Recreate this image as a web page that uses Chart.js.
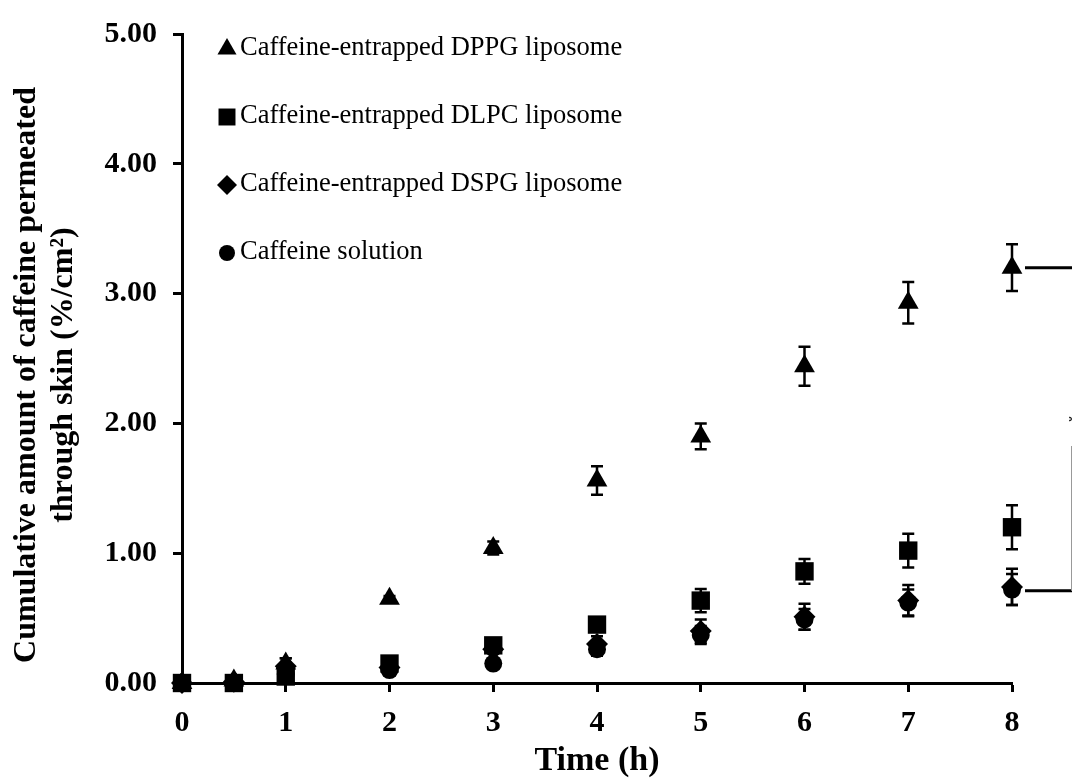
<!DOCTYPE html>
<html>
<head>
<meta charset="utf-8">
<title>Caffeine permeation through skin</title>
<script src="https://cdn.jsdelivr.net/npm/chart.js@4.4.1/dist/chart.umd.min.js"></script>
<style>
  html, body { margin: 0; padding: 0; background: #fff; }
</style>
</head>
<body>
<canvas id="chart" width="1072" height="778"></canvas>
<script>
// sampling times (h)
let times = [0, 0.5, 1, 2, 3, 4, 5, 6, 7, 8];

// cumulative amount permeated (%/cm2) and SD per formulation
let dppg = [0, 0.02, 0.15, 0.65, 1.04, 1.56, 1.9, 2.44, 2.93, 3.2];
let dppgSd = [0, 0.01, 0.04, 0.02, 0.05, 0.11, 0.1, 0.15, 0.16, 0.18];

let dlpc = [0, 0, 0.05, 0.15, 0.29, 0.45, 0.635, 0.86, 1.02, 1.2];
let dlpcSd = [0, 0, 0.03, 0.02, 0.03, 0.03, 0.09, 0.095, 0.13, 0.17];

let dspg = [0, 0.01, 0.13, 0.12, 0.26, 0.3, 0.4, 0.51, 0.635, 0.74];
let dspgSd = [0, 0.01, 0.06, 0.02, 0.03, 0.06, 0.09, 0.1, 0.12, 0.14];

let solution = [0, 0, 0.07, 0.1, 0.15, 0.26, 0.37, 0.49, 0.62, 0.72];
let solutionSd = [0, 0, 0.03, 0.02, 0.02, 0.05, 0.07, 0.08, 0.1, 0.12];

let labels = [
  "Caffeine-entrapped DPPG liposome",
  "Caffeine-entrapped DLPC liposome",
  "Caffeine-entrapped DSPG liposome",
  "Caffeine solution",
];
let yTicks = [0, 1, 2, 3, 4, 5];
let yTitle = ["Cumulative amount of caffeine permeated", "through skin (%/cm\u00B2)"];
let xTitle = "Time (h)";

let serif = "'Liberation Serif', 'Times New Roman', serif";

function points(ys) {
  return times.map((t, i) => ({ x: t, y: ys[i] }));
}

function series(label, ys, sd, style, radius) {
  return {
    label: label,
    data: points(ys),
    sd: sd,
    pointStyle: style,
    pointRadius: radius,
    pointHoverRadius: radius,
    pointBackgroundColor: "#000",
    pointBorderColor: "#000",
    pointBorderWidth: 0,
    showLine: false,
    clip: false,
  };
}

// vertical SD bars with caps
let errorBars = {
  id: "errorBars",
  afterDatasetsDraw(chart) {
    let ctx = chart.ctx;
    let xs = chart.scales.x;
    let ys = chart.scales.y;
    ctx.save();
    ctx.strokeStyle = "#000";
    ctx.lineWidth = 2.5;
    chart.data.datasets.forEach((ds) => {
      ds.data.forEach((p, i) => {
        let e = ds.sd[i];
        if (!e) return;
        let x = xs.getPixelForValue(p.x);
        let top = ys.getPixelForValue(p.y + e);
        let bot = ys.getPixelForValue(p.y - e);
        ctx.beginPath();
        ctx.moveTo(x, top);
        ctx.lineTo(x, bot);
        ctx.moveTo(x - 6, top);
        ctx.lineTo(x + 6, top);
        ctx.moveTo(x - 6, bot);
        ctx.lineTo(x + 6, bot);
        ctx.stroke();
      });
    });
    ctx.restore();
  },
};

// legend stacked in the upper left of the plot
let sideLegend = {
  id: "sideLegend",
  afterDraw(chart) {
    let ctx = chart.ctx;
    let sizes = { triangle: 11, rect: 12, rectRot: 10, circle: 8 };
    ctx.save();
    ctx.fillStyle = "#000";
    ctx.strokeStyle = "#000";
    ctx.font = "26.5px " + serif;
    ctx.textBaseline = "middle";
    ctx.textAlign = "left";
    chart.data.datasets.forEach((ds, i) => {
      let y = 48 + i * 68;
      Chart.helpers.drawPoint(ctx, {
        pointStyle: ds.pointStyle,
        radius: sizes[ds.pointStyle],
        rotation: 0,
        borderWidth: 0,
      }, 227, y + 1);
      ctx.fillText(ds.label, 240, y);
    });
    ctx.restore();
  },
};

// two-line rotated y title
let sideTitle = {
  id: "sideTitle",
  afterDraw(chart) {
    let ctx = chart.ctx;
    ctx.save();
    ctx.fillStyle = "#000";
    ctx.font = "bold 32px " + serif;
    ctx.textAlign = "center";
    ctx.textBaseline = "alphabetic";
    [35, 72].forEach((bx, i) => {
      ctx.save();
      ctx.translate(bx, 375);
      ctx.rotate(-Math.PI / 2);
      ctx.fillText(yTitle[i], 0, 0);
      ctx.restore();
    });
    ctx.restore();
  },
};

// significance bracket at 8 h, running off the right edge
let bracket = {
  id: "bracket",
  afterDraw(chart) {
    let ctx = chart.ctx;
    let ys = chart.scales.y;
    let hi = ys.getPixelForValue(dppg[dppg.length - 1]);
    let lo = ys.getPixelForValue(0.71);
    ctx.save();
    ctx.strokeStyle = "#000";
    ctx.lineWidth = 3;
    ctx.beginPath();
    ctx.moveTo(1025, hi);
    ctx.lineTo(1072, hi);
    ctx.moveTo(1025, lo);
    ctx.lineTo(1072, lo);
    ctx.stroke();
    ctx.strokeStyle = "#999";
    ctx.lineWidth = 1;
    ctx.beginPath();
    ctx.moveTo(1071.5, 446);
    ctx.lineTo(1071.5, lo);
    ctx.stroke();
    ctx.fillStyle = "#000";
    ctx.font = "20px " + serif;
    ctx.textAlign = "left";
    ctx.textBaseline = "middle";
    ctx.fillText("*", 1068, 424);
    ctx.restore();
  },
};

new Chart("chart", {
  type: "scatter",
  data: {
    datasets: [
      series(labels[0], dppg, dppgSd, "triangle", 12),
      series(labels[1], dlpc, dlpcSd, "rect", 13),
      series(labels[2], dspg, dspgSd, "rectRot", 11),
      series(labels[3], solution, solutionSd, "circle", 9),
    ],
  },
  options: {
    responsive: false,
    animation: false,
    layout: { padding: { top: 29, right: 60, left: 0, bottom: 0 } },
    plugins: {
      legend: { display: false },
      tooltip: { enabled: false },
    },
    scales: {
      x: {
        type: "linear",
        min: 0,
        max: 8,
        afterFit(scale) { scale.height = 95; },
        ticks: {
          stepSize: 1,
          color: "#000",
          padding: 13,
          font: { family: serif, size: 30, weight: "bold" },
        },
        grid: { drawOnChartArea: false, tickLength: 9, tickWidth: 3, tickColor: "#000" },
        border: { display: true, width: 3, color: "#000" },
        title: {
          display: true,
          text: xTitle,
          color: "#000",
          font: { family: serif, size: 34, weight: "bold", lineHeight: 1.0 },
          padding: { top: 0, bottom: 0 },
        },
      },
      y: {
        min: 0,
        max: 5,
        afterFit(scale) { scale.width = 182; },
        afterBuildTicks(scale) { scale.ticks = yTicks.map((v) => ({ value: v })); },
        ticks: {
          color: "#000",
          padding: 16,
          callback: (v) => v.toFixed(2),
          font: { family: serif, size: 30, weight: "bold" },
        },
        grid: { drawOnChartArea: false, tickLength: 9, tickWidth: 3, tickColor: "#000" },
        border: { display: true, width: 3, color: "#000" },
      },
    },
  },
  plugins: [errorBars, sideLegend, sideTitle, bracket],
});
</script>
</body>
</html>
